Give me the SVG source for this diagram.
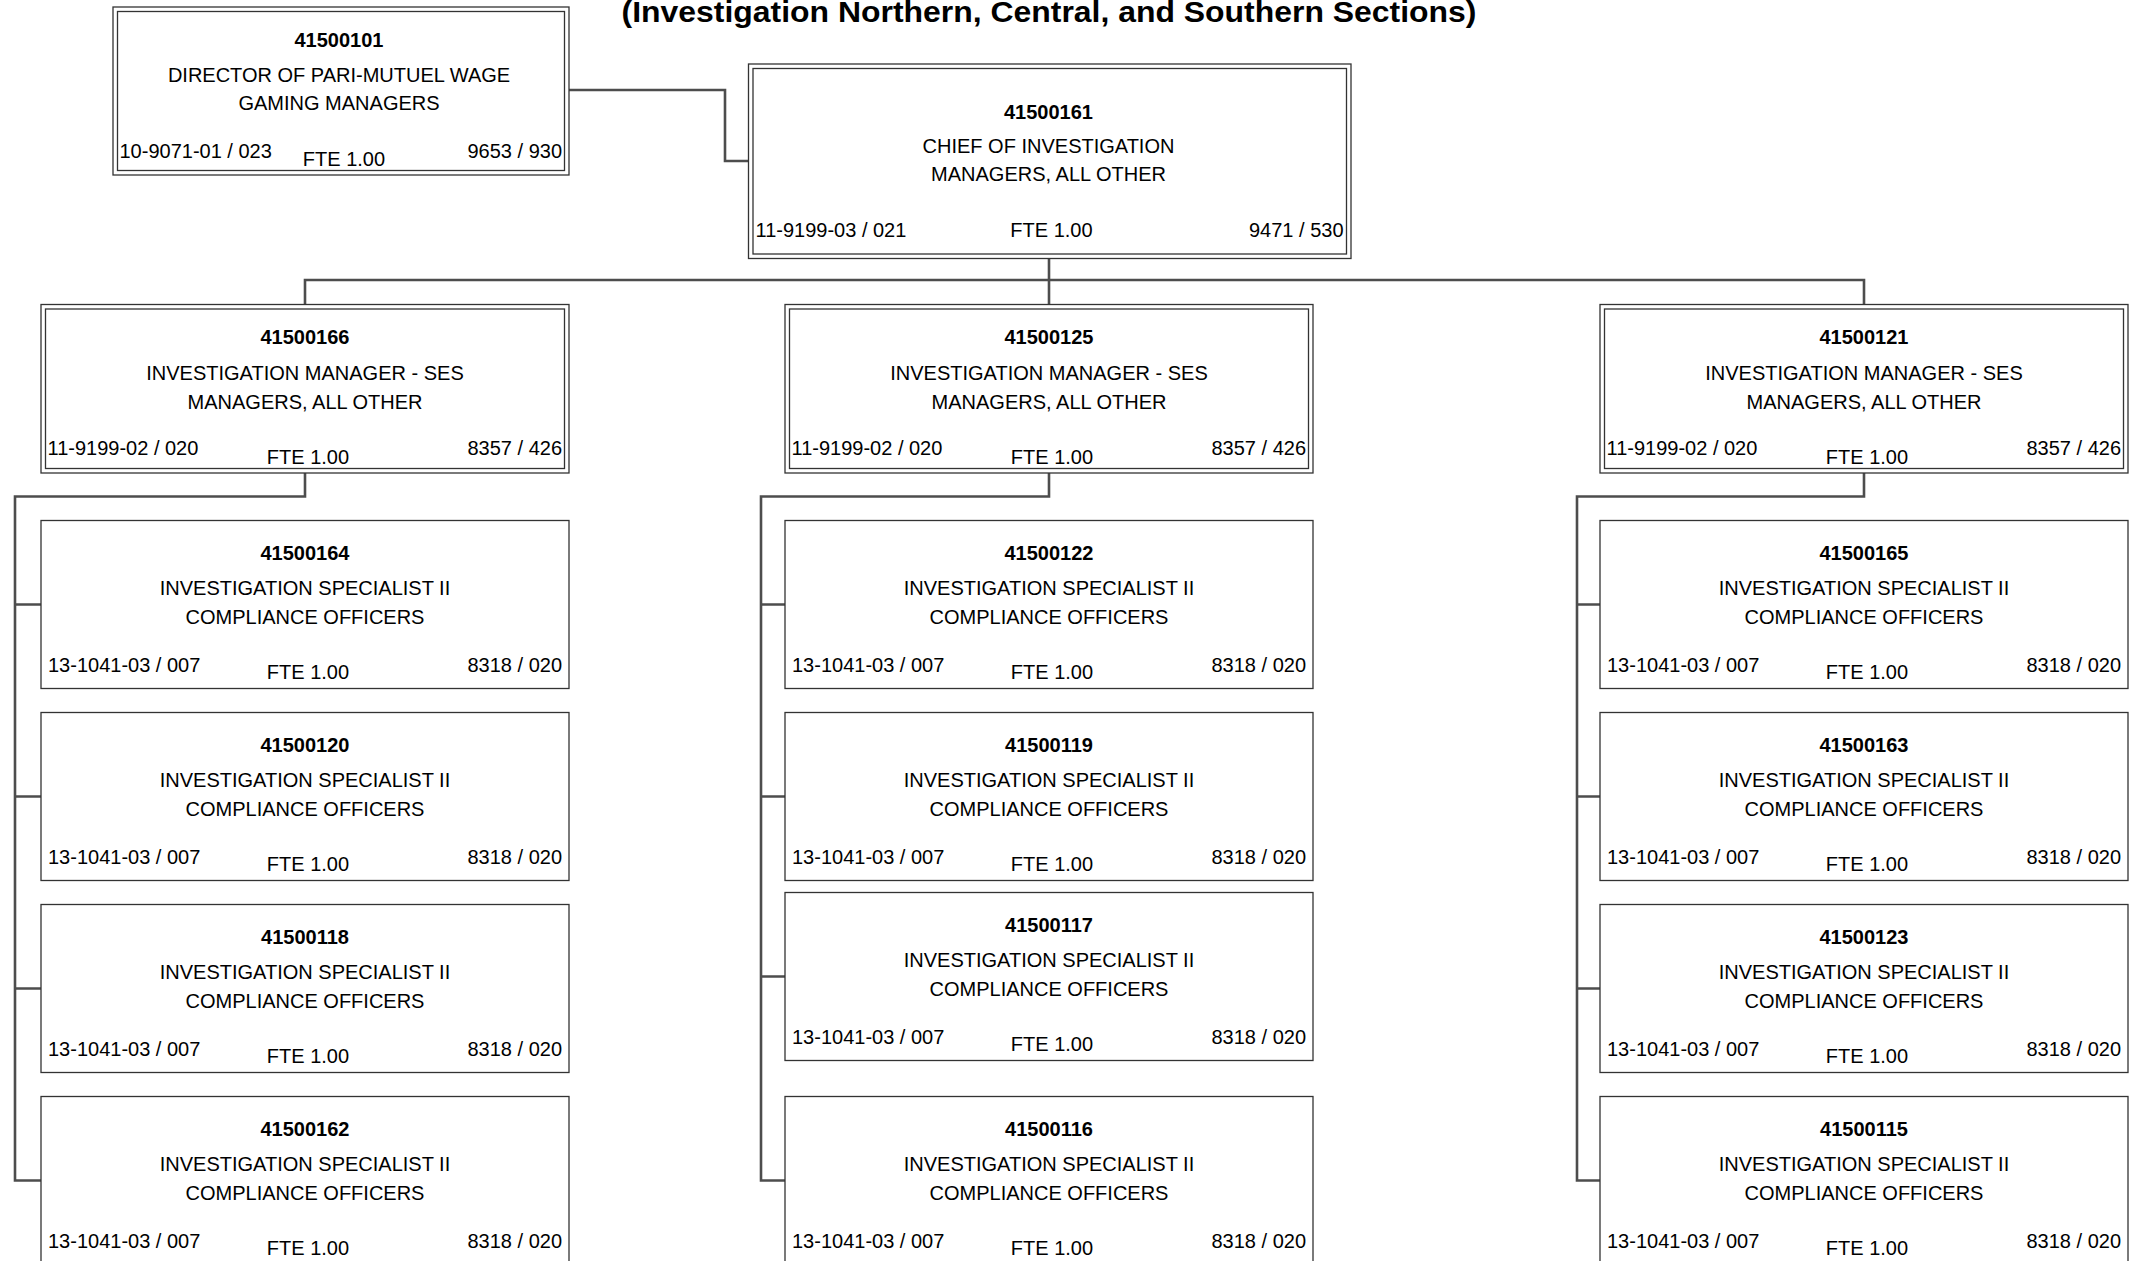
<svg xmlns="http://www.w3.org/2000/svg" width="2132" height="1261" viewBox="0 0 2132 1261">
  <style>
    .bg { fill: #ffffff; }
    .box { fill: #ffffff; stroke: #333333; stroke-width: 1.3; }
    .inner { fill: none; stroke: #333333; stroke-width: 1.3; }
    .conn { fill: none; stroke: #4d4d4d; stroke-width: 2.6; }
    text { font-family: "Liberation Sans", Arial, sans-serif; font-size: 20px; fill: #000000; }
    .id { font-weight: bold; text-anchor: middle; }
    .c { text-anchor: middle; }
    .r { text-anchor: end; }
    .title { font-weight: bold; font-size: 29px; text-anchor: middle; }
  </style>
  <defs>
    <!-- single-frame position box (528 x 168) -->
    <rect id="specBox" class="box" x="0" y="0" width="528" height="168"/>
    <!-- double-frame manager box (528 x 168.5) -->
    <g id="mgrBox">
      <rect class="box" x="0" y="0" width="528" height="168.5"/>
      <rect class="inner" x="4.5" y="4.5" width="519" height="159.5"/>
    </g>
  </defs>

  <rect class="bg" x="0" y="0" width="2132" height="1261"/>

  <text class="title" x="1049" y="22" textLength="855" lengthAdjust="spacingAndGlyphs">(Investigation Northern, Central, and Southern Sections)</text>

  <!-- reporting lines -->
  <g id="connectors">
    <path class="conn" d="M569,90 H725 V161 H748.5"/>
    <path class="conn" d="M1049,258.5 V304.5"/>
    <path class="conn" d="M305,304.5 V280 H1864 V304.5"/>
    <!-- left section -->
    <path class="conn" d="M305,473 V496.5 H15 V1180.5 H41"/>
    <path class="conn" d="M15,604.5 H41 M15,796.5 H41 M15,988.5 H41"/>
    <!-- central section -->
    <path class="conn" d="M1049,473 V496.5 H761 V1180.5 H785"/>
    <path class="conn" d="M761,604.5 H785 M761,796.5 H785 M761,976.5 H785"/>
    <!-- right section -->
    <path class="conn" d="M1864,473 V496.5 H1577 V1180.5 H1600"/>
    <path class="conn" d="M1577,604.5 H1600 M1577,796.5 H1600 M1577,988.5 H1600"/>
  </g>

  <!-- director -->
  <g id="n41500101" transform="translate(113,7)">
    <rect class="box" x="0" y="0" width="456" height="168"/>
    <rect class="inner" x="4.5" y="4.5" width="447" height="159"/>
    <text class="id" x="226" y="39.5">41500101</text>
    <text class="c" x="226" y="74.5">DIRECTOR OF PARI-MUTUEL WAGE</text>
    <text class="c" x="226" y="103">GAMING MANAGERS</text>
    <text x="6.5" y="150.5">10-9071-01 / 023</text>
    <text class="c" x="231" y="158.5">FTE 1.00</text>
    <text class="r" x="449" y="150.5">9653 / 930</text>
  </g>

  <!-- chief -->
  <g id="n41500161" transform="translate(748.5,64)">
    <rect class="box" x="0" y="0" width="602.5" height="194.5"/>
    <rect class="inner" x="4.5" y="4.5" width="593.5" height="185.5"/>
    <text class="id" x="300" y="54.5">41500161</text>
    <text class="c" x="300" y="88.5">CHIEF OF INVESTIGATION</text>
    <text class="c" x="300" y="117">MANAGERS, ALL OTHER</text>
    <text x="7" y="173">11-9199-03 / 021</text>
    <text class="c" x="303" y="172.5">FTE 1.00</text>
    <text class="r" x="595" y="173">9471 / 530</text>
  </g>

  <!-- section managers -->
  <g id="n41500166" transform="translate(41,304.5)">
    <use href="#mgrBox"/>
    <text class="id" x="264" y="39.5">41500166</text>
    <text class="c" x="264" y="75.5">INVESTIGATION MANAGER - SES</text>
    <text class="c" x="264" y="104">MANAGERS, ALL OTHER</text>
    <text x="6.5" y="150.5">11-9199-02 / 020</text>
    <text class="c" x="267" y="159">FTE 1.00</text>
    <text class="r" x="521" y="150.5">8357 / 426</text>
  </g>
  <g id="n41500125" transform="translate(785,304.5)">
    <use href="#mgrBox"/>
    <text class="id" x="264" y="39.5">41500125</text>
    <text class="c" x="264" y="75.5">INVESTIGATION MANAGER - SES</text>
    <text class="c" x="264" y="104">MANAGERS, ALL OTHER</text>
    <text x="6.5" y="150.5">11-9199-02 / 020</text>
    <text class="c" x="267" y="159">FTE 1.00</text>
    <text class="r" x="521" y="150.5">8357 / 426</text>
  </g>
  <g id="n41500121" transform="translate(1600,304.5)">
    <use href="#mgrBox"/>
    <text class="id" x="264" y="39.5">41500121</text>
    <text class="c" x="264" y="75.5">INVESTIGATION MANAGER - SES</text>
    <text class="c" x="264" y="104">MANAGERS, ALL OTHER</text>
    <text x="6.5" y="150.5">11-9199-02 / 020</text>
    <text class="c" x="267" y="159">FTE 1.00</text>
    <text class="r" x="521" y="150.5">8357 / 426</text>
  </g>

  <!-- left section specialists -->
  <g id="n41500164" transform="translate(41,520.5)">
    <use href="#specBox"/>
    <text class="id" x="264" y="39.5">41500164</text>
    <text class="c" x="264" y="74.5">INVESTIGATION SPECIALIST II</text>
    <text class="c" x="264" y="103">COMPLIANCE OFFICERS</text>
    <text x="7" y="151">13-1041-03 / 007</text>
    <text class="c" x="267" y="158.5">FTE 1.00</text>
    <text class="r" x="521" y="151">8318 / 020</text>
  </g>
  <g id="n41500120" transform="translate(41,712.5)">
    <use href="#specBox"/>
    <text class="id" x="264" y="39.5">41500120</text>
    <text class="c" x="264" y="74.5">INVESTIGATION SPECIALIST II</text>
    <text class="c" x="264" y="103">COMPLIANCE OFFICERS</text>
    <text x="7" y="151">13-1041-03 / 007</text>
    <text class="c" x="267" y="158.5">FTE 1.00</text>
    <text class="r" x="521" y="151">8318 / 020</text>
  </g>
  <g id="n41500118" transform="translate(41,904.5)">
    <use href="#specBox"/>
    <text class="id" x="264" y="39.5">41500118</text>
    <text class="c" x="264" y="74.5">INVESTIGATION SPECIALIST II</text>
    <text class="c" x="264" y="103">COMPLIANCE OFFICERS</text>
    <text x="7" y="151">13-1041-03 / 007</text>
    <text class="c" x="267" y="158.5">FTE 1.00</text>
    <text class="r" x="521" y="151">8318 / 020</text>
  </g>
  <g id="n41500162" transform="translate(41,1096.5)">
    <use href="#specBox"/>
    <text class="id" x="264" y="39.5">41500162</text>
    <text class="c" x="264" y="74.5">INVESTIGATION SPECIALIST II</text>
    <text class="c" x="264" y="103">COMPLIANCE OFFICERS</text>
    <text x="7" y="151">13-1041-03 / 007</text>
    <text class="c" x="267" y="158.5">FTE 1.00</text>
    <text class="r" x="521" y="151">8318 / 020</text>
  </g>

  <!-- central section specialists -->
  <g id="n41500122" transform="translate(785,520.5)">
    <use href="#specBox"/>
    <text class="id" x="264" y="39.5">41500122</text>
    <text class="c" x="264" y="74.5">INVESTIGATION SPECIALIST II</text>
    <text class="c" x="264" y="103">COMPLIANCE OFFICERS</text>
    <text x="7" y="151">13-1041-03 / 007</text>
    <text class="c" x="267" y="158.5">FTE 1.00</text>
    <text class="r" x="521" y="151">8318 / 020</text>
  </g>
  <g id="n41500119" transform="translate(785,712.5)">
    <use href="#specBox"/>
    <text class="id" x="264" y="39.5">41500119</text>
    <text class="c" x="264" y="74.5">INVESTIGATION SPECIALIST II</text>
    <text class="c" x="264" y="103">COMPLIANCE OFFICERS</text>
    <text x="7" y="151">13-1041-03 / 007</text>
    <text class="c" x="267" y="158.5">FTE 1.00</text>
    <text class="r" x="521" y="151">8318 / 020</text>
  </g>
  <g id="n41500117" transform="translate(785,892.5)">
    <use href="#specBox"/>
    <text class="id" x="264" y="39.5">41500117</text>
    <text class="c" x="264" y="74.5">INVESTIGATION SPECIALIST II</text>
    <text class="c" x="264" y="103">COMPLIANCE OFFICERS</text>
    <text x="7" y="151">13-1041-03 / 007</text>
    <text class="c" x="267" y="158.5">FTE 1.00</text>
    <text class="r" x="521" y="151">8318 / 020</text>
  </g>
  <g id="n41500116" transform="translate(785,1096.5)">
    <use href="#specBox"/>
    <text class="id" x="264" y="39.5">41500116</text>
    <text class="c" x="264" y="74.5">INVESTIGATION SPECIALIST II</text>
    <text class="c" x="264" y="103">COMPLIANCE OFFICERS</text>
    <text x="7" y="151">13-1041-03 / 007</text>
    <text class="c" x="267" y="158.5">FTE 1.00</text>
    <text class="r" x="521" y="151">8318 / 020</text>
  </g>

  <!-- right section specialists -->
  <g id="n41500165" transform="translate(1600,520.5)">
    <use href="#specBox"/>
    <text class="id" x="264" y="39.5">41500165</text>
    <text class="c" x="264" y="74.5">INVESTIGATION SPECIALIST II</text>
    <text class="c" x="264" y="103">COMPLIANCE OFFICERS</text>
    <text x="7" y="151">13-1041-03 / 007</text>
    <text class="c" x="267" y="158.5">FTE 1.00</text>
    <text class="r" x="521" y="151">8318 / 020</text>
  </g>
  <g id="n41500163" transform="translate(1600,712.5)">
    <use href="#specBox"/>
    <text class="id" x="264" y="39.5">41500163</text>
    <text class="c" x="264" y="74.5">INVESTIGATION SPECIALIST II</text>
    <text class="c" x="264" y="103">COMPLIANCE OFFICERS</text>
    <text x="7" y="151">13-1041-03 / 007</text>
    <text class="c" x="267" y="158.5">FTE 1.00</text>
    <text class="r" x="521" y="151">8318 / 020</text>
  </g>
  <g id="n41500123" transform="translate(1600,904.5)">
    <use href="#specBox"/>
    <text class="id" x="264" y="39.5">41500123</text>
    <text class="c" x="264" y="74.5">INVESTIGATION SPECIALIST II</text>
    <text class="c" x="264" y="103">COMPLIANCE OFFICERS</text>
    <text x="7" y="151">13-1041-03 / 007</text>
    <text class="c" x="267" y="158.5">FTE 1.00</text>
    <text class="r" x="521" y="151">8318 / 020</text>
  </g>
  <g id="n41500115" transform="translate(1600,1096.5)">
    <use href="#specBox"/>
    <text class="id" x="264" y="39.5">41500115</text>
    <text class="c" x="264" y="74.5">INVESTIGATION SPECIALIST II</text>
    <text class="c" x="264" y="103">COMPLIANCE OFFICERS</text>
    <text x="7" y="151">13-1041-03 / 007</text>
    <text class="c" x="267" y="158.5">FTE 1.00</text>
    <text class="r" x="521" y="151">8318 / 020</text>
  </g>
</svg>
